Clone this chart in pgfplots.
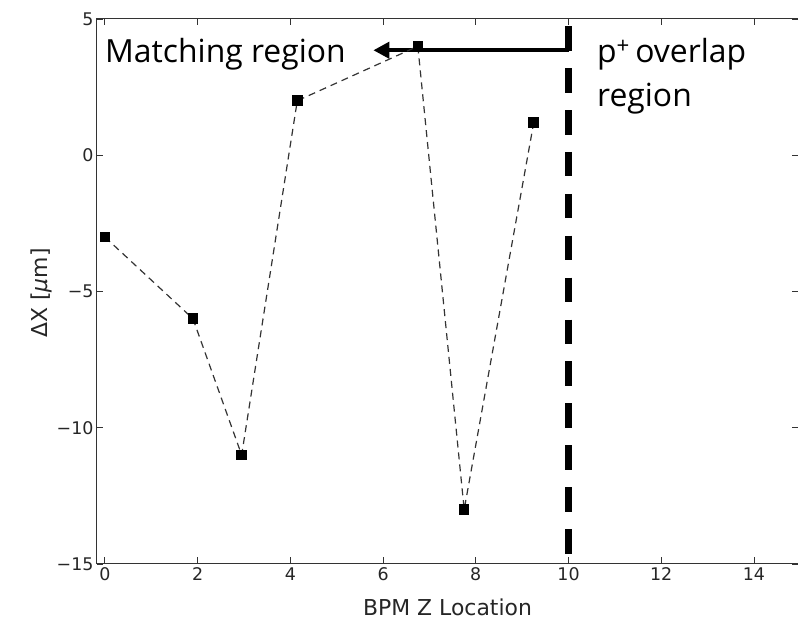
\documentclass[border=0pt]{standalone}
\usepackage{fontspec}
\setmainfont{DejaVu Sans}
\newfontfamily\annotfont{Open Sans}
\usepackage{pgfplots}
\pgfplotsset{compat=1.18}
\usetikzlibrary{arrows.meta}
\definecolor{axgray}{HTML}{333333}

\begin{document}
\begin{tikzpicture}
\path[use as bounding box] (0bp,0bp) rectangle (798bp,620bp);
\begin{axis}[
  at={(97bp,56bp)}, anchor=south west,
  scale only axis, width=701bp, height=545bp,
  xmin=-0.17, xmax=14.95, ymin=-15, ymax=5,
  xtick={0,2,4,6,8,10,12,14},
  xticklabels={0,2,4,6,8,10,12,14},
  ytick={-15,-10,-5,0,5},
  yticklabels={−15,−10,−5,0,5},
  tick align=inside, major tick length=6.5bp,
  axis line style={axgray, line width=1bp},
  every tick/.style={axgray, line width=0.9bp},
  ticklabel style={font=\fontsize{17.5}{20}\selectfont, text=black!85},
]
% boundary of the p+ overlap region
\addplot[black, line width=6.7bp, dash pattern=on 24.5bp off 17.4bp]
  coordinates {(10,4.734) (10,-14.62)};
% arrow pointing into the matching region
\addplot[black, line width=4.3bp, -{Triangle[length=16bp,width=16bp]}]
  coordinates {(10,3.853) (5.79,3.853)};
% BPM offsets
\addplot[axgray, line width=1.2bp, dash pattern=on 7bp off 5bp,
  mark=square*, mark size=4.7bp, mark options={solid, fill=black, draw=black}]
  coordinates {
    (0.00,-3.0)
    (1.90,-6.0)
    (2.95,-11.0)
    (4.15,2.0)
    (6.75,4.0)
    (7.75,-13.0)
    (9.25,1.2)
  };
\end{axis}
\node[anchor=base, font=\fontsize{22}{26}\selectfont, text=black!85] at (447.5bp,5bp) {BPM Z Location};
\node[rotate=90, anchor=base, font=\fontsize{22}{26}\selectfont, text=black!85] at (47bp,327bp) {ΔX [\textit{μ}m]};
\node[anchor=base west, inner sep=0pt, font=\annotfont\fontsize{32}{38}\selectfont] at (105bp,557.3bp) {Matching region};
\node[anchor=base west, inner sep=0pt, font=\annotfont\fontsize{32}{38}\selectfont] at (597bp,557bp) {p\textsuperscript{+}\,overlap};
\node[anchor=base west, inner sep=0pt, font=\annotfont\fontsize{32}{38}\selectfont] at (597bp,513bp) {region};
\end{tikzpicture}
\end{document}
